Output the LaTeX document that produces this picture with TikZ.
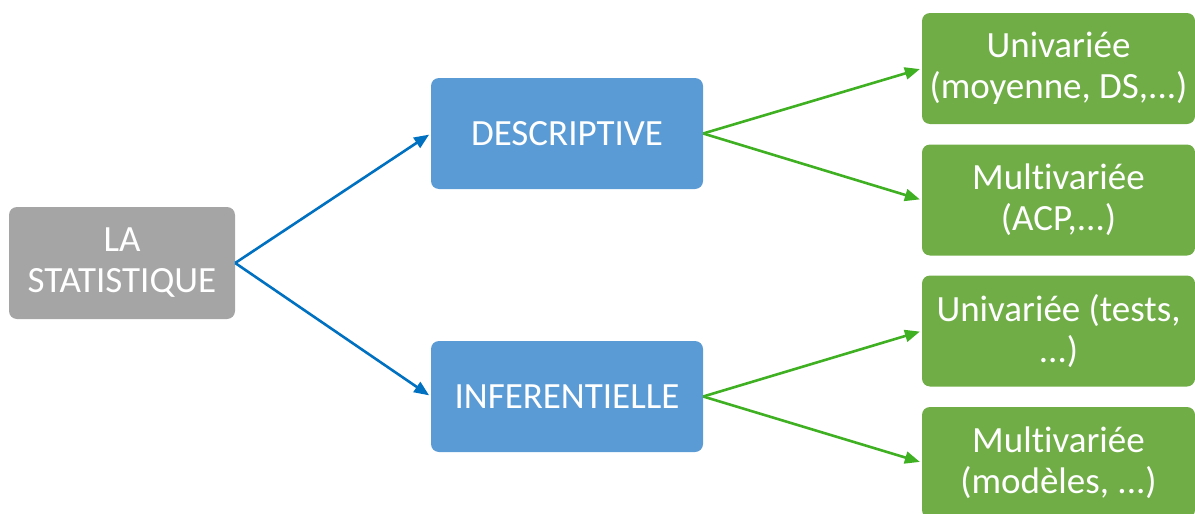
\documentclass[tikz,border=0pt]{standalone}
\usepackage{fontspec}
\setmainfont[Ligatures={NoCommon}]{Carlito}
\usetikzlibrary{arrows.meta}
\definecolor{boxgray}{HTML}{A5A5A5}
\definecolor{boxblue}{HTML}{5B9BD5}
\definecolor{boxgreen}{HTML}{70AD47}
\definecolor{arrblue}{HTML}{0070C0}
\definecolor{arrgreen}{HTML}{3FB022}
\tikzset{
  box/.style={rounded corners=8pt, inner sep=0pt, text=white, align=center,
    font=\fontsize{37}{41}\selectfont, minimum height=111pt},
  graybox/.style={box, fill=boxgray, minimum width=226pt, minimum height=112pt},
  bluebox/.style={box, fill=boxblue, minimum width=272pt},
  greenbox/.style={box, fill=boxgreen, minimum width=273pt},
  conn/.style={line width=2.6pt, -{Triangle[length=15pt,width=12pt]}, shorten >=2pt},
  blueconn/.style={conn, draw=arrblue, fill=arrblue},
  greenconn/.style={conn, draw=arrgreen, fill=arrgreen},
}
\begin{document}
\begin{tikzpicture}[x=1pt,y=-1pt]
\useasboundingbox (0,0) rectangle (1195,514);
\node[graybox] (stat) at (122,263) {LA\\STATISTIQUE};
\node[bluebox] (desc) at (567,133.5) {DESCRIPTIVE};
\node[bluebox] (inf) at (567,396.5) {INFERENTIELLE};
\node[greenbox] (g1) at (1058.5,68.5) {Univariée\\(moyenne, DS,...)};
\node[greenbox] (g2) at (1058.5,200) {Multivariée\\(ACP,...)};
\node[greenbox] (g3) at (1058.5,331) {Univariée (tests,\\...)};
\node[greenbox] (g4) at (1058.5,462.5) {Multivariée\\(modèles, ...)};
\draw[blueconn] (stat.east) -- (desc.west);
\draw[blueconn] (stat.east) -- (inf.west);
\draw[greenconn] (desc.east) -- (g1.west);
\draw[greenconn] (desc.east) -- (g2.west);
\draw[greenconn] (inf.east) -- (g3.west);
\draw[greenconn] (inf.east) -- (g4.west);
\end{tikzpicture}
\end{document}
